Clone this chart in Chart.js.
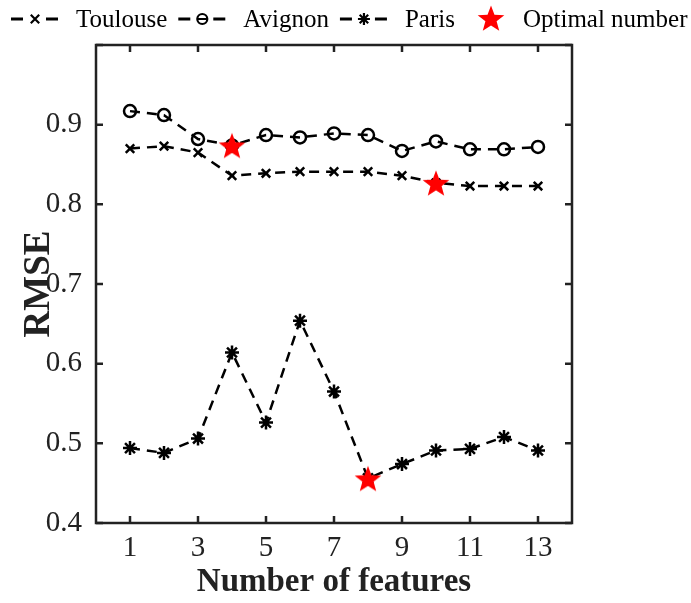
<!DOCTYPE html>
<html>
<head>
<meta charset="utf-8">
<title>RMSE vs number of features</title>
<script src="https://cdn.jsdelivr.net/npm/chart.js@4.4.1/dist/chart.umd.min.js"></script>
<style>
  body { margin: 0; background: #fff; }
  #wrap { width: 691px; height: 603px; }
</style>
</head>
<body>
<div id="wrap"><canvas id="rmseChart" width="691" height="603"></canvas></div>
<script>
const features = [1, 2, 3, 4, 5, 6, 7, 8, 9, 10, 11, 12, 13];
const toulouse = [0.870, 0.873, 0.865, 0.836, 0.839, 0.841, 0.841, 0.841, 0.836, 0.827, 0.823, 0.823, 0.823];
const avignon = [0.917, 0.912, 0.882, 0.874, 0.887, 0.884, 0.889, 0.887, 0.867, 0.879, 0.869, 0.869, 0.872];
const paris = [0.494, 0.488, 0.506, 0.614, 0.526, 0.654, 0.565, 0.456, 0.474, 0.491, 0.493, 0.508, 0.491];
const optimalX = [4, 10, 8];
const optimalY = [0.874, 0.827, 0.456];
const xTicks = [1, 3, 5, 7, 9, 11, 13];
const seriesNames = ['Toulouse', 'Avignon', 'Paris'];

const SERIF = "'Liberation Serif', 'DejaVu Serif', serif";
const BOX = { left: 96, right: 572, top: 45, bottom: 523 };

// red five pointed star, used as a point image
function makeStar(size) {
  const c = document.createElement('canvas');
  c.width = size;
  c.height = size;
  const g = c.getContext('2d');
  const r = size / 2;
  g.beginPath();
  for (let i = 0; i < 10; i++) {
    const rad = i % 2 === 0 ? r : r * 0.42;
    const a = -Math.PI / 2 + i * Math.PI / 5;
    const px = r + rad * Math.cos(a);
    const py = r + 1.5 + rad * Math.sin(a);
    if (i === 0) g.moveTo(px, py); else g.lineTo(px, py);
  }
  g.closePath();
  g.fillStyle = '#ff0000';
  g.fill();
  return c;
}
const starImg = makeStar(28);

function toPoints(ys) {
  return ys.map((y, i) => ({ x: features[i], y }));
}

const lineStyle = {
  borderColor: '#000',
  borderWidth: 2.5,
  borderDash: [10, 7],
  pointBackgroundColor: 'rgba(0,0,0,0)',
  pointBorderColor: '#000',
  pointBorderWidth: 2.5,
  pointRadius: 6,
  fill: false,
  tension: 0,
  order: 1
};

function drawMarker(ctx, style, x, y) {
  ctx.save();
  ctx.strokeStyle = '#000';
  ctx.lineWidth = 2.2;
  ctx.setLineDash([]);
  const r = 6;
  ctx.beginPath();
  if (style === 'crossRot') {
    ctx.moveTo(x - r * 0.7, y - r * 0.7); ctx.lineTo(x + r * 0.7, y + r * 0.7);
    ctx.moveTo(x + r * 0.7, y - r * 0.7); ctx.lineTo(x - r * 0.7, y + r * 0.7);
  } else if (style === 'circle') {
    ctx.arc(x, y, 5, 0, Math.PI * 2);
    ctx.moveTo(x - 5, y); ctx.lineTo(x + 5, y);
  } else {
    for (let k = 0; k < 4; k++) {
      const a = k * Math.PI / 4;
      ctx.moveTo(x - r * Math.cos(a), y - r * Math.sin(a));
      ctx.lineTo(x + r * Math.cos(a), y + r * Math.sin(a));
    }
  }
  ctx.stroke();
  ctx.restore();
}

const framePlugin = {
  id: 'frame',
  afterDraw(chart) {
    const ctx = chart.ctx;
    const { left, right, top, bottom } = chart.chartArea;
    const xs = chart.scales.x;
    const ys = chart.scales.y;
    ctx.save();
    ctx.strokeStyle = '#222';
    ctx.lineWidth = 2.5;
    ctx.strokeRect(left, top, right - left, bottom - top);
    ctx.beginPath();
    const tl = 7;
    xTicks.forEach(v => {
      const px = xs.getPixelForValue(v);
      ctx.moveTo(px, bottom); ctx.lineTo(px, bottom - tl);
      ctx.moveTo(px, top); ctx.lineTo(px, top + tl);
    });
    ys.ticks.forEach(t => {
      const py = ys.getPixelForValue(t.value);
      ctx.moveTo(left, py); ctx.lineTo(left + tl, py);
      ctx.moveTo(right, py); ctx.lineTo(right - tl, py);
    });
    ctx.stroke();
    ctx.restore();
  }
};

const legendPlugin = {
  id: 'topLegend',
  afterDraw(chart) {
    const ctx = chart.ctx;
    const y = 19;
    const styles = ['crossRot', 'circle', 'star'];
    ctx.save();
    ctx.font = '25px ' + SERIF;
    ctx.textBaseline = 'middle';
    ctx.fillStyle = '#000';
    ctx.strokeStyle = '#000';
    ctx.lineWidth = 3;
    let x = 11;
    seriesNames.forEach((name, i) => {
      ctx.beginPath();
      ctx.moveTo(x, y); ctx.lineTo(x + 12, y);
      ctx.moveTo(x + 35, y); ctx.lineTo(x + 47, y);
      ctx.stroke();
      drawMarker(ctx, styles[i], x + 24, y);
      ctx.fillText(name, x + 65, y + 1);
      x = x + 65 + ctx.measureText(name).width + 11;
    });
    const sx = x + 25;
    ctx.drawImage(starImg, sx - 14, y - 15);
    ctx.fillText('Optimal number', sx + 32, y + 1);
    ctx.restore();
  }
};

new Chart(document.getElementById('rmseChart'), {
  type: 'line',
  data: {
    datasets: [
      {
        label: 'Optimal number',
        data: optimalX.map((x, i) => ({ x, y: optimalY[i] })),
        showLine: false,
        pointStyle: starImg,
        order: 0
      },
      Object.assign({ label: seriesNames[0], data: toPoints(toulouse), pointStyle: 'crossRot' }, lineStyle),
      Object.assign({ label: seriesNames[1], data: toPoints(avignon), pointStyle: 'circle' }, lineStyle),
      Object.assign({ label: seriesNames[2], data: toPoints(paris), pointStyle: 'star' }, lineStyle, { pointRadius: 7 })
    ]
  },
  options: {
    responsive: false,
    animation: false,
    layout: { padding: { top: BOX.top, right: 691 - BOX.right, left: 0, bottom: 0 } },
    plugins: {
      legend: { display: false },
      tooltip: { enabled: false }
    },
    scales: {
      x: {
        type: 'linear',
        min: 0,
        max: 14,
        afterBuildTicks: (scale) => { scale.ticks = xTicks.map(v => ({ value: v })); },
        afterFit: (scale) => { scale.height = 603 - BOX.bottom; },
        grid: { display: false, drawTicks: false },
        border: { display: false },
        ticks: {
          padding: 8,
          color: '#222',
          font: { family: SERIF, size: 29 },
          callback: (v) => String(v)
        },
        title: {
          display: true,
          text: 'Number of features',
          color: '#222',
          font: { family: SERIF, size: 33, weight: 'bold' },
          padding: { bottom: 1 }
        }
      },
      y: {
        min: 0.4,
        max: 1.0,
        afterFit: (scale) => { scale.width = BOX.left; },
        grid: { display: false, drawTicks: false },
        border: { display: false },
        ticks: {
          stepSize: 0.1,
          padding: 14,
          color: '#222',
          font: { family: SERIF, size: 29 },
          callback: (v) => (v > 0.95 ? '' : v.toFixed(1))
        },
        title: {
          display: true,
          text: 'RMSE',
          color: '#222',
          font: { family: SERIF, size: 37, weight: 'bold' },
          padding: { top: 17 }
        }
      }
    }
  },
  plugins: [framePlugin, legendPlugin]
});
</script>
</body>
</html>
